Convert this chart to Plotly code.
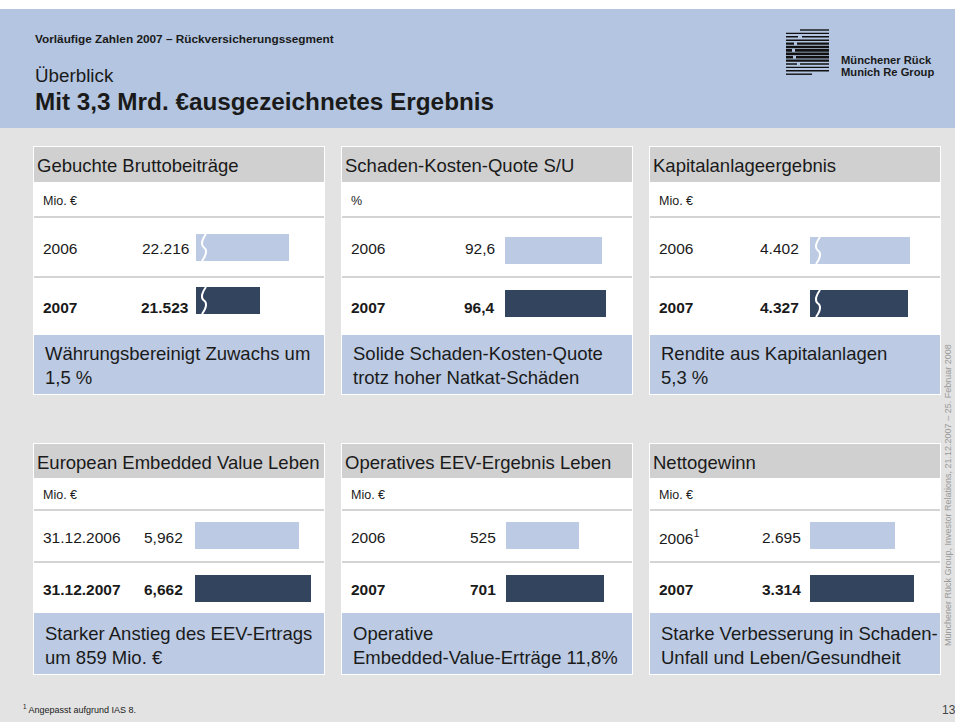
import plotly.graph_objects as go

W, H = 955, 722
FONT = "Liberation Sans, Arial, Helvetica, sans-serif"

def X(px):
    return px / W

def Y(py):
    return 1 - py / H

# ---------------- data ----------------
header_kicker = "Vorläufige Zahlen 2007 – Rückversicherungssegment"
header_sub = "Überblick"
header_title = "Mit 3,3 Mrd. €ausgezeichnetes Ergebnis"
logo_lines = ["Münchener Rück", "Munich Re Group"]

panel_titles = [
    "Gebuchte Bruttobeiträge",
    "Schaden-Kosten-Quote S/U",
    "Kapitalanlageergebnis",
    "European Embedded Value Leben",
    "Operatives EEV-Ergebnis Leben",
    "Nettogewinn",
]
units = ["Mio. €", "%", "Mio. €", "Mio. €", "Mio. €", "Mio. €"]
period_labels = [
    ["2006", "2007"],
    ["2006", "2007"],
    ["2006", "2007"],
    ["31.12.2006", "31.12.2007"],
    ["2006", "2007"],
    ["2006<sup>1</sup>", "2007"],
]
values = [
    [22216, 21523],
    [92.6, 96.4],
    [4402, 4327],
    [5962, 6662],
    [525, 701],
    [2695, 3314],
]
value_labels = [
    ["22.216", "21.523"],
    ["92,6", "96,4"],
    ["4.402", "4.327"],
    ["5,962", "6,662"],
    ["525", "701"],
    ["2.695", "3.314"],
]
notes = [
    ["Währungsbereinigt Zuwachs um", "1,5 %"],
    ["Solide Schaden-Kosten-Quote", "trotz hoher Natkat-Schäden"],
    ["Rendite aus Kapitalanlagen", "5,3 %"],
    ["Starker Anstieg des EEV-Ertrags", "um 859 Mio. €"],
    ["Operative", "Embedded-Value-Erträge 11,8%"],
    ["Starke Verbesserung in Schaden-", "Unfall und Leben/Gesundheit"],
]
broken_axis = [True, False, True, False, False, False]
footnote = "<sup>1</sup> Angepasst aufgrund IAS 8."
page_number = "13"
side_text = "Münchener Rück Group, Investor Relations, 21.12.2007 – 25. Februar 2008"

# ---------------- layout geometry ----------------
PAGE_BG = "#e3e3e3"
HEADER_BG = "#b3c5e0"
BOX_BLUE = "#bccbe3"
TITLE_GRAY = "#d0d0d0"
LINE_GRAY = "#c6c6c6"
DARK = "#33445f"
LIGHT = "#bccbe3"
TXT = "#1a1a1a"

col_x0 = [33, 341, 649]
panel_w = 292
rows = [
    dict(top=146, title_bot=182, line1=217, line2=277, blue_top=335, bottom=395,
         title_y=165, unit_y=201, yr_y=(248, 307), bar_c=(250.5, 303.5), note_y=(353, 377)),
    dict(top=443, title_bot=478, line1=510, line2=562, blue_top=613, bottom=675,
         title_y=462, unit_y=495, yr_y=(537, 589), bar_c=(535.5, 588.5), note_y=(633, 657)),
]
bar_start = [196, 505, 810, 195, 506, 810]
val_right = [190, 496, 800, 184, 497, 802]
bar_dy = [-3, 0, 0, 0, 0, 0]
scale_k = [0.04185, 1.048, 0.02939, 0.017443, 0.1395, 0.0315]
scale_start = [20000, 0, 1000, 0, 0, 0]
BAR_H = 27
AX_W = 140

fig = go.Figure()
shapes = []
ann = []

# page header
shapes.append(dict(type="rect", xref="paper", yref="paper", x0=0, x1=1, y0=Y(128), y1=Y(9),
                   fillcolor=HEADER_BG, line=dict(width=0), layer="below"))
shapes.append(dict(type="rect", xref="paper", yref="paper", x0=0, x1=1, y0=Y(9), y1=1,
                   fillcolor="white", line=dict(width=0), layer="below"))

ann.append(dict(text="<b>" + header_kicker + "</b>", x=X(33), y=Y(39), font=dict(size=11.8, color=TXT)))
ann.append(dict(text=header_sub, x=X(33), y=Y(75), font=dict(size=18.8, color=TXT)))
ann.append(dict(text="<b>" + header_title + "</b>", x=X(33), y=Y(101), font=dict(size=24.3, color=TXT)))
ann.append(dict(text="<b>" + logo_lines[0] + "</b>", x=X(840), y=Y(59.5), font=dict(size=11.2, color=TXT),
                borderpad=0))
ann.append(dict(text="<b>" + logo_lines[1] + "</b>", x=X(840), y=Y(71.5), font=dict(size=11.2, color=TXT),
                borderpad=0))

# logo stripes
logo_rows = [
    (30, 800, 829, 1.4), (33.4, 786, 829, 1.4), (36.8, 786, 829, 1.4), (40.2, 786, 829, 1.6),
    (43.6, 786, 829, 2.2), (47.0, 786, 829, 2.6), (50.4, 786, 829, 2.8), (53.8, 786, 829, 2.8),
    (57.2, 786, 829, 2.6), (60.6, 786, 829, 2.2), (64.0, 786, 829, 1.6), (67.4, 786, 829, 1.4),
    (70.8, 786, 829, 1.4), (74.2, 786, 812, 1.4),
]
for (yy, xa, xb, lw) in logo_rows:
    shapes.append(dict(type="line", xref="paper", yref="paper", x0=X(xa), x1=X(xb), y0=Y(yy), y1=Y(yy),
                       line=dict(color="#111111", width=lw), layer="below"))
for (yy, xa, xb) in [(36.8, 798, 802), (43.6, 794, 797), (50.4, 792, 795), (57.2, 793, 796), (64.0, 797, 800)]:
    shapes.append(dict(type="line", xref="paper", yref="paper", x0=X(xa), x1=X(xb), y0=Y(yy), y1=Y(yy),
                       line=dict(color=HEADER_BG, width=3), layer="below"))

# panels
for i in range(6):
    r = rows[i // 3]
    x0 = col_x0[i % 3]
    x1 = x0 + panel_w
    shapes.append(dict(type="rect", xref="paper", yref="paper", x0=X(x0), x1=X(x1), y0=Y(r["bottom"]), y1=Y(r["top"]),
                       fillcolor="white", line=dict(width=0), layer="below"))
    shapes.append(dict(type="rect", xref="paper", yref="paper", x0=X(x0 + 1), x1=X(x1 - 1), y0=Y(r["title_bot"]), y1=Y(r["top"] + 1),
                       fillcolor=TITLE_GRAY, line=dict(width=0), layer="below"))
    shapes.append(dict(type="rect", xref="paper", yref="paper", x0=X(x0 + 1), x1=X(x1 - 1), y0=Y(r["bottom"] - 1), y1=Y(r["blue_top"]),
                       fillcolor=BOX_BLUE, line=dict(width=0), layer="below"))
    for ly in (r["line1"], r["line2"]):
        shapes.append(dict(type="line", xref="paper", yref="paper", x0=X(x0 + 1), x1=X(x1 - 1), y0=Y(ly), y1=Y(ly),
                           line=dict(color=LINE_GRAY, width=1.5), layer="below"))

    ann.append(dict(text=panel_titles[i], x=X(x0 + 2), y=Y(r["title_y"]), font=dict(size=18.5, color=TXT)))
    ann.append(dict(text=units[i], x=X(x0 + 8), y=Y(r["unit_y"]), font=dict(size=12.5, color=TXT)))
    for j in range(2):
        lab = period_labels[i][j]
        vl = value_labels[i][j]
        if j == 1:
            lab = "<b>" + lab + "</b>"
            vl = "<b>" + vl + "</b>"
        ann.append(dict(text=lab, x=X(x0 + 8), y=Y(r["yr_y"][j]), font=dict(size=15.5, color=TXT)))
        ann.append(dict(text=vl, x=X(val_right[i] + 1), y=Y(r["yr_y"][j]), xanchor="right", font=dict(size=15.5, color=TXT)))
    for j, line in enumerate(notes[i]):
        ann.append(dict(text=line, x=X(x0 + 10), y=Y(r["note_y"][j]), font=dict(size=18.5, color=TXT)))

    # bar axis (broken axes simply start the visible range above zero)
    c0 = r["bar_c"][0] + bar_dy[i]
    c1 = r["bar_c"][1] + bar_dy[i]
    step = c1 - c0
    top_px = c0 - 25
    bot_px = c1 + 25
    sfx = "" if i == 0 else str(i + 1)
    k = scale_k[i]
    s = scale_start[i]
    fig.update_layout({
        "xaxis" + sfx: dict(domain=[X(bar_start[i]), X(bar_start[i] + AX_W)], range=[s, s + AX_W / k],
                            visible=False, fixedrange=True, anchor="y" + sfx),
        "yaxis" + sfx: dict(domain=[Y(bot_px), Y(top_px)], range=[1 + 25 / step, -25 / step],
                            visible=False, fixedrange=True, anchor="x" + sfx),
    })
    fig.add_trace(go.Bar(
        x=values[i], y=[0, 1], orientation="h", width=BAR_H / step,
        marker=dict(color=[LIGHT, DARK], line=dict(width=0)),
        xaxis="x" + sfx, yaxis="y" + sfx, hoverinfo="skip", showlegend=False, cliponaxis=True,
    ))
    if broken_axis[i]:
        for c in (c0, c1):
            bx = bar_start[i] + 8
            t = c - BAR_H / 2
            bt = c + BAR_H / 2
            m = c
            path = (f"M {X(bx + 2)},{Y(t)} C {X(bx - 3)},{Y(t + 7)} {X(bx - 3)},{Y(m - 2)} {X(bx)},{Y(m)} "
                    f"C {X(bx + 3)},{Y(m + 2)} {X(bx + 3)},{Y(bt - 7)} {X(bx - 2)},{Y(bt)}")
            shapes.append(dict(type="path", xref="paper", yref="paper", path=path,
                               line=dict(color="white", width=2), layer="above"))

# footer
ann.append(dict(text=footnote, x=X(21), y=Y(709), font=dict(size=9, color=TXT)))
ann.append(dict(text=page_number, x=X(940), y=Y(710), font=dict(size=12, color="#444444")))
ann.append(dict(text=side_text, x=X(948), y=Y(495), xanchor="center", textangle=-90,
                font=dict(size=9, color="#9a9a9a")))

for a in ann:
    a.setdefault("xref", "paper")
    a.setdefault("yref", "paper")
    a.setdefault("xanchor", "left")
    a.setdefault("yanchor", "middle")
    a.setdefault("showarrow", False)
    a.setdefault("align", "left")

fig.update_layout(
    width=W, height=H, autosize=False,
    margin=dict(l=0, r=0, t=0, b=0, pad=0),
    paper_bgcolor=PAGE_BG, plot_bgcolor="rgba(0,0,0,0)",
    font=dict(family=FONT, color=TXT),
    shapes=shapes, annotations=ann, showlegend=False, bargap=0,
)

fig.write_html(
    "out.html",
    config=dict(displayModeBar=False, staticPlot=True),
    post_script="document.body.style.margin='0px';document.body.style.overflow='hidden';",
)
